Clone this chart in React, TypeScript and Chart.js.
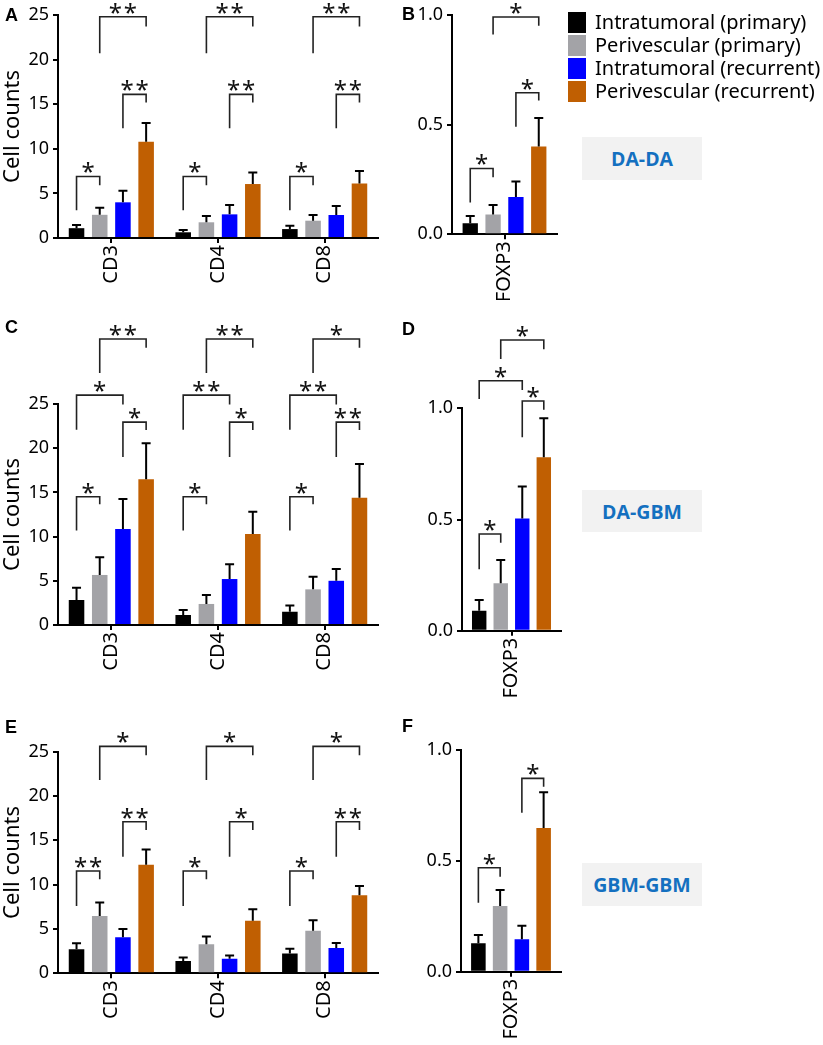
import { useEffect, useRef } from 'react';
import { Chart, registerables } from 'chart.js';

Chart.register(...registerables);
Chart.defaults.font.family = "'Noto Sans', sans-serif";

const groups = [
  'Intratumoral (primary)',
  'Perivescular (primary)',
  'Intratumoral (recurrent)',
  'Perivescular (recurrent)',
];
const groupColors = ['#000000', '#a3a3a7', '#0000ff', '#c05f02'];

const cellTypes = ['CD3', 'CD4', 'CD8'];
const tregTypes = ['FOXP3'];

const countTicks = [0, 5, 10, 15, 20, 25];
const foxp3Ticks = [0, 0.5, 1.0];

// rows follow the order of `groups`
// A: DA-DA cell counts
const aMeans = [
  [1.1, 0.64, 1.0],
  [2.6, 1.76, 1.94],
  [4.0, 2.65, 2.58],
  [10.8, 6.05, 6.1],
];
const aSems = [
  [0.35, 0.26, 0.38],
  [0.8, 0.7, 0.64],
  [1.3, 1.05, 1.0],
  [2.1, 1.3, 1.4],
];
// B: DA-DA FOXP3
const bMeans = [[0.05], [0.09], [0.17], [0.4]];
const bSems = [[0.033], [0.043], [0.07], [0.13]];
// C: DA-GBM cell counts
const cMeans = [
  [2.83, 1.13, 1.5],
  [5.66, 2.38, 4.03],
  [10.86, 5.2, 5.0],
  [16.5, 10.3, 14.4],
];
const cSems = [
  [1.39, 0.57, 0.7],
  [1.99, 1.02, 1.44],
  [3.39, 1.66, 1.33],
  [4.05, 2.5, 3.8],
];
// D: DA-GBM FOXP3
const dMeans = [[0.09], [0.213], [0.505], [0.78]];
const dSems = [[0.048], [0.105], [0.143], [0.175]];
// E: GBM-GBM cell counts
const eMeans = [
  [2.7, 1.39, 2.22],
  [6.47, 3.27, 4.81],
  [4.06, 1.65, 2.86],
  [12.26, 5.94, 8.8],
];
const eSems = [
  [0.68, 0.38, 0.56],
  [1.53, 0.87, 1.17],
  [0.94, 0.35, 0.56],
  [1.72, 1.28, 1.05],
];
// F: GBM-GBM FOXP3
const fMeans = [[0.128], [0.296], [0.146], [0.647]];
const fSems = [[0.037], [0.072], [0.061], [0.161]];

// significance brackets: groups compared, leg ends / top (data units), stars per category
type Bracket = { from: number; to: number; left: number; top: number; right: number; stars: number[] };

const aBrackets: Bracket[] = [
  { from: 0, to: 1, left: 3.1, top: 6.9, right: 5.9, stars: [1, 1, 1] },
  { from: 2, to: 3, left: 12.3, top: 16.1, right: 15.2, stars: [2, 2, 2] },
  { from: 1, to: 3, left: 20.7, top: 24.8, right: 23.7, stars: [2, 2, 2] },
];
const bBrackets: Bracket[] = [
  { from: 0, to: 1, left: 0.145, top: 0.3, right: 0.26, stars: [1] },
  { from: 2, to: 3, left: 0.49, top: 0.645, right: 0.61, stars: [1] },
  { from: 1, to: 3, left: 0.91, top: 0.99, right: 0.95, stars: [1] },
];
const cBrackets: Bracket[] = [
  { from: 0, to: 1, left: 10.7, top: 14.5, right: 13.65, stars: [1, 1, 1] },
  { from: 2, to: 3, left: 19.0, top: 22.95, right: 22.05, stars: [1, 1, 2] },
  { from: 0, to: 2, left: 22.1, top: 26.0, right: 24.95, stars: [1, 2, 2] },
  { from: 1, to: 3, left: 28.5, top: 32.35, right: 31.35, stars: [2, 2, 1] },
];
const dBrackets: Bracket[] = [
  { from: 0, to: 1, left: 0.276, top: 0.435, right: 0.396, stars: [1] },
  { from: 2, to: 3, left: 0.87, top: 1.033, right: 0.993, stars: [1] },
  { from: 0, to: 2, left: 1.042, top: 1.124, right: 1.082, stars: [1] },
  { from: 1, to: 3, left: 1.222, top: 1.307, right: 1.265, stars: [1] },
];
const eBrackets: Bracket[] = [
  { from: 0, to: 1, left: 7.6, top: 11.54, right: 10.6, stars: [2, 1, 1] },
  { from: 2, to: 3, left: 13.16, top: 17.1, right: 16.17, stars: [2, 1, 2] },
  { from: 1, to: 3, left: 21.8, top: 25.6, right: 24.6, stars: [1, 1, 1] },
];
const fBrackets: Bracket[] = [
  { from: 0, to: 1, left: 0.311, top: 0.468, right: 0.428, stars: [1] },
  { from: 2, to: 3, left: 0.716, top: 0.871, right: 0.833, stars: [1] },
];

interface PanelProps {
  left: number;
  top: number;
  width: number;
  height: number;
  yWidth: number;
  padTop: number;
  padRight: number;
  xHeight: number;
  labels: string[];
  means: number[][];
  sems: number[][];
  ticks: number[];
  decimals: number;
  title?: string;
  brackets: Bracket[];
}

const Panel: React.FC<PanelProps> = (props) => {
  const canvasRef = useRef<HTMLCanvasElement>(null);

  useEffect(() => {
    const ctx = canvasRef.current!.getContext('2d')!;
    const { means, sems, brackets, labels, ticks } = props;

    // error bars (upper only) and significance brackets
    const overlay = {
      id: 'errorsAndBrackets',
      afterDatasetsDraw(chart: Chart) {
        const c = chart.ctx;
        const y = chart.scales.y;
        c.save();
        c.strokeStyle = '#000';
        c.lineWidth = 2;
        chart.data.datasets.forEach((_, i) => {
          chart.getDatasetMeta(i).data.forEach((bar: any, j) => {
            const t = y.getPixelForValue(means[i][j] + sems[i][j]);
            c.beginPath();
            c.moveTo(bar.x, bar.y);
            c.lineTo(bar.x, t);
            c.moveTo(bar.x - 4.5, t);
            c.lineTo(bar.x + 4.5, t);
            c.stroke();
          });
        });
        c.lineWidth = 1.6;
        c.strokeStyle = '#222';
        c.fillStyle = '#111';
        c.font = "24px 'Noto Sans'";
        c.textAlign = 'center';
        c.textBaseline = 'alphabetic';
        const m = c.measureText('*');
        brackets.forEach((b) => {
          labels.forEach((_, j) => {
            const x1 = (chart.getDatasetMeta(b.from).data[j] as any).x;
            const x2 = (chart.getDatasetMeta(b.to).data[j] as any).x;
            const yt = y.getPixelForValue(b.top);
            c.beginPath();
            c.moveTo(x1, y.getPixelForValue(b.left));
            c.lineTo(x1, yt);
            c.lineTo(x2, yt);
            c.lineTo(x2, y.getPixelForValue(b.right));
            c.stroke();
            const n = b.stars[j];
            const mid = (x1 + x2) / 2;
            const base = yt - 3 - m.actualBoundingBoxDescent;
            for (let k = 0; k < n; k++) {
              c.fillText('*', mid + (k - (n - 1) / 2) * 15, base);
            }
          });
        });
        c.restore();
      },
    };

    const chart = new Chart(ctx, {
      type: 'bar',
      data: {
        labels,
        datasets: groups.map((g, i) => ({
          label: g,
          data: means[i],
          backgroundColor: groupColors[i],
          borderWidth: 0,
          categoryPercentage: 0.87,
          barPercentage: 0.67,
        })),
      },
      options: {
        responsive: false,
        animation: false,
        layout: { padding: { top: props.padTop, right: props.padRight, left: 0, bottom: 0 } },
        plugins: { legend: { display: false }, tooltip: { enabled: false } },
        scales: {
          x: {
            grid: { offset: false, drawOnChartArea: false, drawTicks: true, tickLength: 5, color: '#000', lineWidth: 2 },
            border: { display: true, color: '#000', width: 2 },
            ticks: { color: '#000', font: { size: 20 }, minRotation: 90, maxRotation: 90, padding: 2 },
            afterFit: (s: any) => {
              s.height = props.xHeight;
            },
          },
          y: {
            min: ticks[0],
            max: ticks[ticks.length - 1],
            afterBuildTicks: (s: any) => {
              s.ticks = ticks.map((v) => ({ value: v }));
            },
            ticks: {
              color: '#000',
              font: { size: 18 },
              padding: 4,
              callback: (v: any) => Number(v).toFixed(props.decimals),
            },
            grid: { drawOnChartArea: false, drawTicks: true, tickLength: 5, color: '#000', lineWidth: 2 },
            border: { display: true, color: '#000', width: 2 },
            title: {
              display: !!props.title,
              text: props.title,
              color: '#000',
              font: { size: 22 },
              padding: { top: 0, bottom: 0 },
            },
            afterFit: (s: any) => {
              s.width = props.yWidth;
            },
          },
        },
      },
      plugins: [overlay],
    });
    return () => chart.destroy();
  }, [props]);

  return (
    <canvas
      ref={canvasRef}
      width={props.width}
      height={props.height}
      style={{ position: 'absolute', left: props.left, top: props.top, width: props.width, height: props.height }}
    />
  );
};

const letterStyle: React.CSSProperties = {
  position: 'absolute',
  font: "bold 18px 'Liberation Sans', Arial, sans-serif",
  lineHeight: '18px',
  color: '#000',
};

const tagStyle: React.CSSProperties = {
  position: 'absolute',
  left: 582,
  width: 120,
  background: '#f2f2f2',
  color: '#1470c0',
  font: "bold 19.5px 'Open Sans', sans-serif",
  display: 'flex',
  alignItems: 'center',
  justifyContent: 'center',
};

export default function App() {
  return (
    <div style={{ position: 'absolute', left: 0, top: 0, width: 823, height: 1045, background: '#fff', overflow: 'hidden' }}>
      <Panel left={0} top={0} width={395} height={300} yWidth={58} padTop={15} padRight={17} xHeight={62}
        labels={cellTypes} means={aMeans} sems={aSems} ticks={countTicks} decimals={0} title="Cell counts" brackets={aBrackets} />
      <Panel left={400} top={0} width={170} height={300} yWidth={52} padTop={13} padRight={13} xHeight={65.7}
        labels={tregTypes} means={bMeans} sems={bSems} ticks={foxp3Ticks} decimals={1} brackets={bBrackets} />
      <Panel left={0} top={310} width={395} height={370} yWidth={58} padTop={94} padRight={17} xHeight={55}
        labels={cellTypes} means={cMeans} sems={cSems} ticks={countTicks} decimals={0} title="Cell counts" brackets={cBrackets} />
      <Panel left={400} top={310} width={175} height={395} yWidth={62} padTop={98.3} padRight={14} xHeight={74.3}
        labels={tregTypes} means={dMeans} sems={dSems} ticks={foxp3Ticks} decimals={1} brackets={dBrackets} />
      <Panel left={0} top={700} width={395} height={345} yWidth={58} padTop={51.7} padRight={17} xHeight={71.7}
        labels={cellTypes} means={eMeans} sems={eSems} ticks={countTicks} decimals={0} title="Cell counts" brackets={eBrackets} />
      <Panel left={400} top={712} width={175} height={333} yWidth={61} padTop={37.7} padRight={14} xHeight={73.3}
        labels={tregTypes} means={fMeans} sems={fSems} ticks={foxp3Ticks} decimals={1} brackets={fBrackets} />

      <div style={{ ...letterStyle, left: 5, top: 6 }}>A</div>
      <div style={{ ...letterStyle, left: 402, top: 5 }}>B</div>
      <div style={{ ...letterStyle, left: 5, top: 318 }}>C</div>
      <div style={{ ...letterStyle, left: 402, top: 320 }}>D</div>
      <div style={{ ...letterStyle, left: 5, top: 718 }}>E</div>
      <div style={{ ...letterStyle, left: 402, top: 717 }}>F</div>

      {groups.map((g, i) => (
        <div key={g} style={{ position: 'absolute', left: 568, top: 12 + 23 * i, height: 23, display: 'flex', alignItems: 'flex-start' }}>
          <div style={{ width: 18, height: 21, background: groupColors[i] }} />
          <div style={{ marginLeft: 9, font: "20px 'Noto Sans', sans-serif", lineHeight: '23px', marginTop: -2, color: '#000', whiteSpace: 'nowrap' }}>{g}</div>
        </div>
      ))}

      <div style={{ ...tagStyle, top: 137, height: 43 }}>DA-DA</div>
      <div style={{ ...tagStyle, top: 490, height: 42 }}>DA-GBM</div>
      <div style={{ ...tagStyle, top: 863, height: 43 }}>GBM-GBM</div>
    </div>
  );
}
